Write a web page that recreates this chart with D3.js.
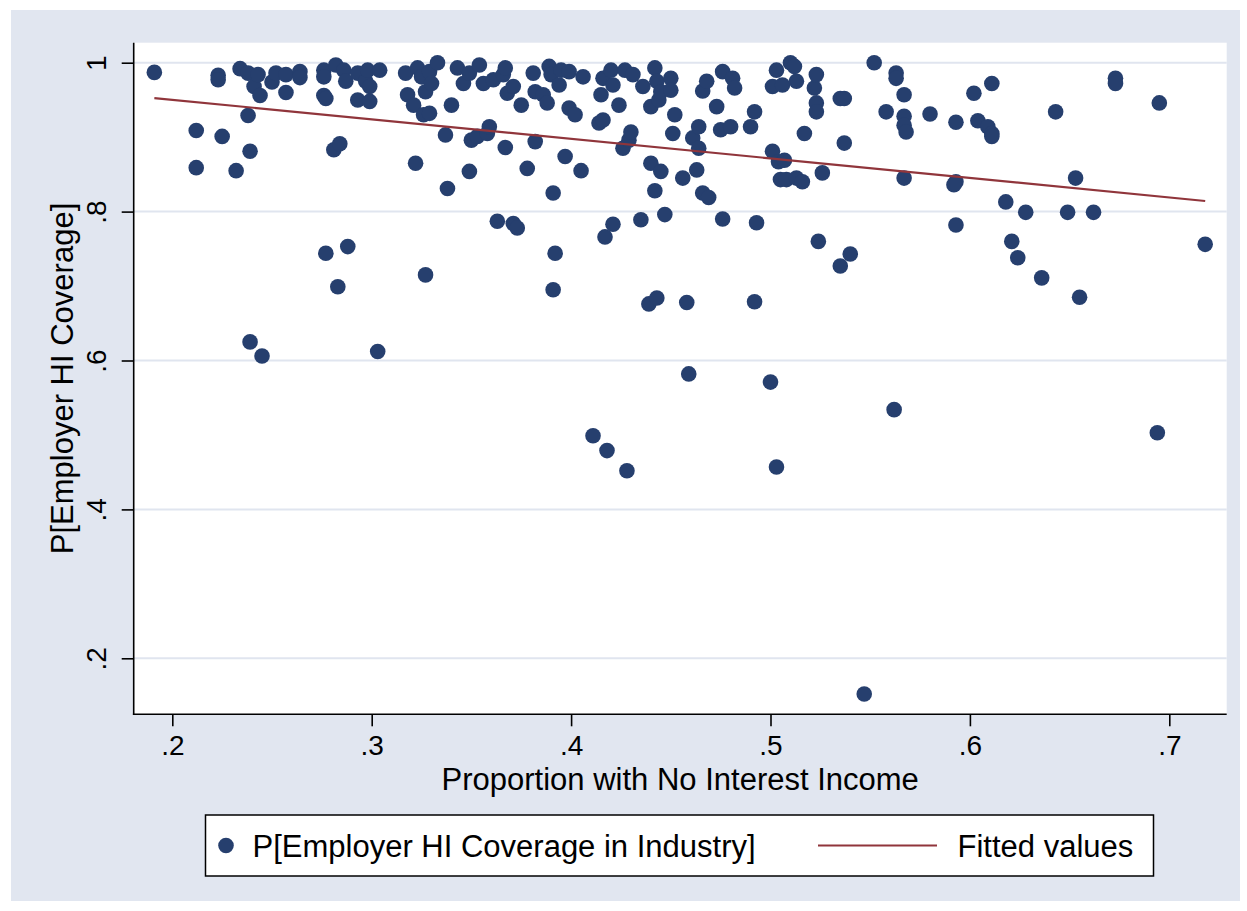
<!DOCTYPE html>
<html>
<head>
<meta charset="utf-8">
<script src="https://cdn.jsdelivr.net/npm/d3@7"></script>
<style>
  body { margin: 0; background: #ffffff; }
  text { font-family: "Liberation Sans", Arial, Helvetica, sans-serif; fill: #000; }
</style>
</head>
<body>
<svg id="chart" width="1247" height="911"></svg>
<script>
// Share of industry workers with no interest income (x) and
// probability of employer health-insurance coverage (y), one point per industry.
const shareNoInterest = [
  0.191,0.212,0.212,0.223,0.223,0.225,0.232,0.234,0.238,0.238,0.239,0.239,0.241,0.243,0.244,0.245,0.250,0.252,0.257,0.257,
  0.264,0.264,0.276,0.276,0.276,0.277,0.277,0.281,0.282,0.283,0.284,0.286,0.287,0.288,0.293,0.293,0.297,0.298,0.299,0.299,
  0.303,0.304,
  0.317,0.318,0.321,0.322,0.323,0.325,0.326,0.327,0.327,0.329,0.329,0.330,0.333,0.337,0.338,0.340,0.343,0.346,0.349,0.349,
  0.350,0.353,0.354,0.356,0.358,0.359,0.361,0.363,0.366,0.367,0.367,0.368,0.371,0.371,0.373,0.375,0.378,0.381,0.382,0.382,
  0.386,0.388,0.389,0.390,0.391,0.392,0.391,0.394,0.395,0.397,0.399,0.399,0.402,0.405,0.406,
  0.411,0.414,0.415,0.416,0.416,0.417,0.418,0.420,0.421,0.421,0.424,0.426,0.427,0.428,0.429,0.430,0.431,0.435,0.436,0.439,
  0.440,0.440,0.442,0.442,0.443,0.443,0.444,0.445,0.445,0.447,0.450,0.450,0.451,0.452,0.456,0.458,0.459,0.461,0.463,0.464,
  0.464,0.466,0.466,0.468,0.469,
  0.473,0.475,0.476,0.476,0.480,0.481,0.482,0.490,0.492,0.493,0.492,0.501,0.500,0.501,0.503,0.503,0.504,0.505,0.506,0.507,
  0.508,0.510,0.512,0.513,0.513,0.516,0.517,0.522,0.523,0.523,0.523,0.524,0.526,0.535,0.535,0.537,0.537,0.540,0.547,0.552,
  0.558,0.562,0.563,0.563,0.567,0.567,0.567,0.568,0.567,
  0.580,0.593,0.593,0.592,0.593,0.602,0.604,0.609,0.611,0.611,0.611,0.618,0.621,0.624,0.628,0.636,0.643,0.649,0.653,0.655,
  0.662,0.673,0.673,0.695,0.694,0.718
];
const employerCoverage = [
  0.987,0.909,0.859,0.983,0.977,0.901,0.855,0.992,0.929,0.986,0.881,0.625,0.968,0.984,0.956,0.606,0.974,0.986,0.984,0.960,
  0.988,0.980,0.956,0.990,0.981,0.952,0.744,0.883,0.997,0.699,0.891,0.990,0.975,0.753,0.986,0.950,0.975,0.990,0.968,0.948,
  0.612,0.990,
  0.986,0.957,0.943,0.865,0.993,0.981,0.930,0.961,0.715,0.988,0.932,0.972,1.000,0.903,0.831,0.943,0.993,0.972,0.854,0.986,
  0.896,0.901,0.997,0.972,0.905,0.914,0.977,0.787,0.984,0.993,0.886,0.959,0.784,0.968,0.778,0.943,0.858,0.986,0.961,0.894,
  0.957,0.946,0.995,0.984,0.825,0.744,0.695,0.970,0.990,0.874,0.988,0.939,0.930,0.855,0.981,
  0.499,0.919,0.957,0.979,0.923,0.766,0.479,0.990,0.970,0.783,0.943,0.885,0.990,0.452,0.896,0.907,0.984,0.789,0.968,0.676,
  0.865,0.941,0.828,0.993,0.684,0.975,0.950,0.854,0.961,0.796,0.979,0.963,0.905,0.930,0.845,0.678,0.582,0.899,0.856,0.914,
  0.885,0.962,0.825,0.975,0.819,
  0.941,0.910,0.790,0.988,0.914,0.979,0.966,0.914,0.934,0.785,0.679,0.881,0.571,0.968,0.990,0.457,0.867,0.843,0.970,0.869,
  0.843,1.000,0.995,0.975,0.845,0.840,0.905,0.966,0.984,0.946,0.934,0.760,0.852,0.727,0.952,0.892,0.952,0.743,0.152,1.000,
  0.934,0.534,0.986,0.979,0.957,0.928,0.916,0.907,0.845,
  0.931,0.920,0.840,0.836,0.782,0.959,0.922,0.914,0.972,0.905,0.901,0.813,0.760,0.738,0.799,0.711,0.934,0.799,0.845,0.685,
  0.799,0.979,0.972,0.946,0.503,0.756
];

// linear fit of coverage on the no-interest share
const fitIntercept = 1.0026;
const fitSlope = -0.2623;

const xTicks = [0.2, 0.3, 0.4, 0.5, 0.6, 0.7];
const yTicks = [0.2, 0.4, 0.6, 0.8, 1];
const xTitle = "Proportion with No Interest Income";
const yTitle = "P[Employer HI Coverage]";
const legendLabels = ["P[Employer HI Coverage in Industry]", "Fitted values"];

// colours
const bgColor = "#e1e6f0";
const gridColor = "#e0e5ef";
const markerColor = "#263f6e";
const fitColor = "#90353b";

// Stata-style labels: ".2", ".4", ... "1"
const fmt = v => (v === 1 ? "1" : d3.format(".1f")(v).replace(/^0/, ""));

const svg = d3.select("#chart");
const region = { x: 11, y: 10, w: 1229, h: 891 };
const plot = { left: 133.7, right: 1226.7, top: 42.7, bottom: 714.3 };

const x = d3.scaleLinear().domain([0.2, 0.7]).range([172.3, 1169.3]);
const y = d3.scaleLinear().domain([0.2, 1]).range([658.3, 62.7]);

// graph region and plot region
svg.append("rect").attr("x", region.x).attr("y", region.y)
  .attr("width", region.w).attr("height", region.h).attr("fill", bgColor);
svg.append("rect").attr("x", plot.left).attr("y", plot.top)
  .attr("width", plot.right - plot.left).attr("height", plot.bottom - plot.top)
  .attr("fill", "#ffffff");

// horizontal grid lines
svg.append("g").selectAll("line").data(yTicks).join("line")
  .attr("x1", plot.left).attr("x2", plot.right)
  .attr("y1", d => y(d)).attr("y2", d => y(d))
  .attr("stroke", gridColor).attr("stroke-width", 2);

// data points
const points = shareNoInterest.map((v, i) => ({ x: v, y: employerCoverage[i] }));
svg.append("g").selectAll("circle").data(points).join("circle")
  .attr("cx", d => x(d.x)).attr("cy", d => y(d.y)).attr("r", 7.8)
  .attr("fill", markerColor);

// fitted values over the observed x range
const [xLo, xHi] = d3.extent(points, d => d.x);
const fitted = [xLo, xHi].map(v => ({ x: v, y: fitIntercept + fitSlope * v }));
svg.append("path").datum(fitted)
  .attr("d", d3.line().x(d => x(d.x)).y(d => y(d.y)))
  .attr("fill", "none").attr("stroke", fitColor).attr("stroke-width", 2.2);

// axes
const xAxis = svg.append("g").attr("transform", `translate(0,${plot.bottom})`)
  .call(d3.axisBottom(x).tickValues(xTicks).tickFormat(fmt).tickSize(12));
xAxis.select(".domain").remove();
xAxis.selectAll(".tick line").attr("stroke", "#000").attr("stroke-width", 1.6);
xAxis.selectAll(".tick text").attr("dy", null).attr("y", 755 - plot.bottom)
  .attr("font-size", 28).attr("fill", "#000");

const yAxis = svg.append("g").attr("transform", `translate(${plot.left},0)`)
  .call(d3.axisLeft(y).tickValues(yTicks).tickFormat(fmt).tickSize(12));
yAxis.select(".domain").remove();
yAxis.selectAll(".tick line").attr("stroke", "#000").attr("stroke-width", 1.6);
yAxis.selectAll(".tick text").attr("x", null).attr("dy", null)
  .attr("text-anchor", "middle").attr("font-size", 28).attr("fill", "#000")
  .attr("transform", `translate(${106 - plot.left},0) rotate(-90)`);

svg.append("line").attr("x1", plot.left).attr("x2", plot.left)
  .attr("y1", plot.top).attr("y2", plot.bottom + 0.8)
  .attr("stroke", "#000").attr("stroke-width", 1.6);
svg.append("line").attr("x1", plot.left - 0.8).attr("x2", plot.right)
  .attr("y1", plot.bottom).attr("y2", plot.bottom)
  .attr("stroke", "#000").attr("stroke-width", 1.6);

// axis titles
svg.append("text").attr("x", (plot.left + plot.right) / 2).attr("y", 790)
  .attr("text-anchor", "middle").attr("font-size", 31).text(xTitle);
svg.append("text").attr("text-anchor", "middle").attr("font-size", 31)
  .attr("transform", `translate(73,${(plot.top + plot.bottom) / 2}) rotate(-90)`)
  .text(yTitle);

// legend
const legend = svg.append("g");
legend.append("rect").attr("x", 205.5).attr("y", 815).attr("width", 948).attr("height", 61)
  .attr("fill", "#fff").attr("stroke", "#000").attr("stroke-width", 1.5);
legend.append("circle").attr("cx", 226).attr("cy", 845.5).attr("r", 7.8).attr("fill", markerColor);
legend.append("text").attr("x", 252.5).attr("y", 857).attr("font-size", 31).text(legendLabels[0]);
legend.append("line").attr("x1", 818).attr("x2", 937).attr("y1", 845.5).attr("y2", 845.5)
  .attr("stroke", fitColor).attr("stroke-width", 2.2);
legend.append("text").attr("x", 957.5).attr("y", 857).attr("font-size", 31).text(legendLabels[1]);
</script>
</body>
</html>
